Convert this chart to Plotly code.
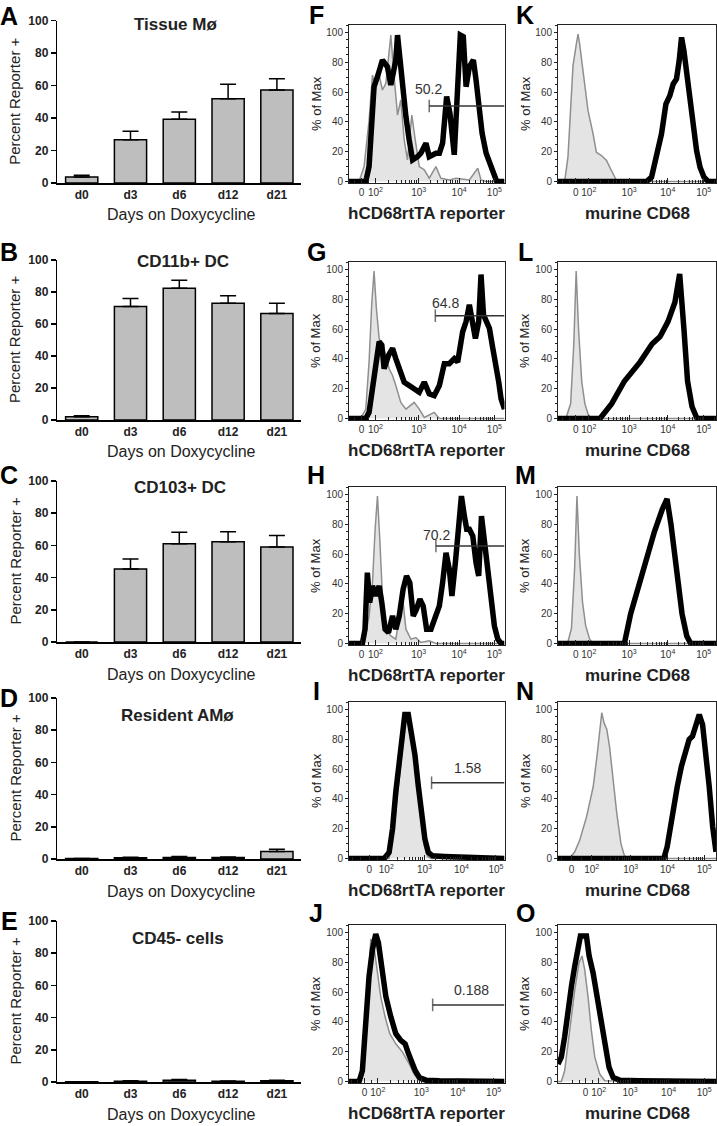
import math
import plotly.graph_objects as go

W, H = 717, 1126
FONT = "Arial, Liberation Sans, Helvetica, sans-serif"

# ---------------- bar chart data (A-E) ----------------
days = ["d0", "d3", "d6", "d12", "d21"]
bar_titles = ["Tissue Mø", "CD11b+ DC", "CD103+ DC", "Resident AMø", "CD45- cells"]
tissue_mac = [3.7, 26.7, 39.3, 51.9, 57.3]
tissue_mac_top = [4.8, 31.9, 43.8, 60.9, 64.3]
cd11b_dc = [2.0, 71.0, 82.3, 73.0, 66.5]
cd11b_dc_top = [2.6, 76.0, 87.4, 77.6, 73.0]
cd103_dc = [0.0, 45.3, 61.0, 62.3, 59.0]
cd103_dc_top = [0.0, 51.5, 68.2, 68.5, 66.2]
resident_am = [0.3, 0.8, 1.0, 0.9, 4.6]
resident_am_top = [0.3, 1.1, 1.5, 1.3, 6.0]
cd45neg = [0.2, 0.5, 1.1, 0.5, 0.8]
cd45neg_top = [0.2, 0.7, 1.5, 0.6, 1.1]

# ---------------- histogram data (x = position along axis, 0-100; y = % of Max) ----------------
# hCD68rtTA reporter column (F-J)
f_ctrl_x = [0, 6.5, 9.7, 12.9, 15.1, 17.2, 19.4, 21.5, 23.7, 26.9, 29.0, 31.2, 33.3, 35.5, 37.6, 40.4, 42.6, 45.2, 48.4, 51.6, 55.9, 59.1, 64.5, 68.8, 77.4, 82.8, 84.9, 88.2, 100]
f_ctrl_y = [0, 0, 10, 41, 71.4, 62.5, 71.4, 61.4, 65.8, 98.2, 70.3, 44.6, 54.7, 27.9, 14.5, 44.6, 27.9, 10, 7.8, 2.2, 10, 2.2, 1.1, 2.2, 1.1, 8.9, 1.1, 0, 0]
f_dox_x = [0, 10.8, 12.9, 14.6, 16.1, 18.3, 21.5, 24.7, 26.9, 28.4, 30.1, 31.2, 32.7, 34.4, 36.6, 38.7, 40.9, 44.1, 46.2, 49.5, 51.6, 55.9, 58.1, 60.2, 62.8, 64.9, 67.7, 69.9, 71.6, 73.5, 75.3, 77.4, 80.0, 81.7, 83.4, 85.6, 88.2, 91.4, 93.5, 95.0, 100]
f_dox_y = [0, 0, 10, 48, 63.6, 70.3, 81.5, 77, 64.7, 72.5, 81.5, 98.2, 81.5, 63.6, 43.5, 27.9, 14.5, 16.7, 19, 25.7, 16.7, 19, 19, 25.7, 57, 45.8, 17.9, 63.6, 98.2, 97.1, 63.6, 77, 81.5, 68.1, 54.7, 32.4, 19, 10, 5.6, 0, 0]

g_ctrl_x = [0, 7.5, 10.8, 12.9, 14.6, 16.1, 17.6, 19.4, 21.5, 23.7, 25.8, 28.0, 30.1, 33.3, 36.6, 41.9, 45.2, 48.4, 54.8, 58.1, 100]
g_ctrl_y = [0, 0, 6.3, 37.9, 76.3, 98.9, 74, 53.7, 49.2, 42.4, 33.4, 28.9, 22.1, 10.8, 6.3, 10.8, 6.3, 0.7, 4.1, 0, 0]
g_dox_x = [0, 10.8, 12.9, 15.1, 17.2, 19.4, 21.1, 22.6, 25.4, 28.0, 30.1, 32.3, 35.5, 38.7, 41.9, 45.2, 48.4, 51.6, 54.8, 58.1, 61.3, 64.5, 67.7, 69.9, 73.1, 75.3, 77.4, 79.1, 81.3, 83.4, 84.9, 86.5, 88.2, 90.3, 92.5, 94.6, 96.3, 97.8, 100]
g_dox_y = [0, 0, 4.1, 19.9, 35.7, 51.5, 49.2, 33.4, 42.4, 47, 40.2, 33.4, 24.4, 22.1, 19.9, 17.6, 24.4, 16.5, 15.3, 22.1, 36.8, 36.8, 40.2, 37.9, 58.2, 65, 76.3, 65, 53.7, 65, 96.6, 69.5, 65, 60.5, 47, 35.7, 24.4, 13.1, 6.3]

h_ctrl_x = [0, 9.7, 12.9, 15.1, 16.8, 18.3, 19.8, 21.5, 23.7, 26.9, 30.1, 32.3, 34.4, 36.6, 39.8, 43.0, 46.2, 51.6, 55.9, 100]
h_ctrl_y = [0, 0, 18.5, 40.8, 76.6, 98.9, 69.9, 31.9, 9.6, 5.1, 2.9, 18.5, 31.9, 9.6, 2.9, 4, 0.7, 1.8, 0, 0]
h_dox_x = [0, 8.6, 10.3, 11.8, 13.3, 15.1, 17.2, 19.4, 21.1, 23.2, 25.4, 28.0, 30.1, 32.3, 34.8, 37.0, 39.1, 41.3, 43.4, 45.6, 47.7, 49.9, 52.7, 55.5, 58.1, 60.2, 62.4, 64.5, 66.2, 68.4, 70.5, 72.3, 74.2, 75.7, 77.4, 79.6, 81.7, 83.4, 85.2, 87.1, 89.2, 91.4, 93.5, 95.7, 97.8, 100]
h_dox_y = [0, 0, 9.6, 47.5, 27.5, 38.6, 31.9, 38.6, 27.5, 9.6, 7.4, 18.5, 9.6, 18.5, 36.4, 45.3, 40.8, 18.5, 23, 29.7, 25.2, 9.6, 9.6, 18.5, 25.2, 40.8, 60.9, 49.8, 31.9, 54.2, 81, 98.9, 85.5, 76.6, 76.6, 72.1, 54.2, 45.3, 85.5, 69.9, 49.8, 31.9, 11.8, 2.9, 0, 0]

i_ctrl_x = [0, 25.8, 29.0, 32.3, 34.4, 36.6, 38.1, 39.8, 41.9, 44.1, 46.2, 48.4, 50.5, 52.7, 100]
i_ctrl_y = [0, 0, 22.1, 53.7, 76.3, 94.4, 97.7, 89.8, 71.8, 49.2, 26.6, 8.6, 1.4, 0, 0]
i_dox_x = [0, 22.6, 25.8, 28.0, 30.1, 32.3, 34.4, 35.9, 38.1, 40.2, 42.4, 44.5, 46.7, 48.8, 51.0, 53.8, 61.3, 72.0, 84.9, 100]
i_dox_y = [0, 0, 4.1, 19.9, 44.7, 65, 87.6, 96.6, 96.6, 85.3, 69.5, 49.2, 31.2, 13.1, 4.1, 1.8, 1.4, 0.9, 0.5, 0]

j_ctrl_x = [0, 7.5, 9.7, 11.8, 14.0, 15.7, 17.8, 20.4, 23.2, 26.2, 30.1, 34.4, 38.7, 41.9, 45.2, 47.3, 100]
j_ctrl_y = [0, 0, 16.3, 52.5, 95.5, 93.2, 77.4, 57, 43.4, 32.1, 25.3, 19.7, 11.8, 5, 0.9, 0, 0]
j_dox_x = [0, 6.5, 8.6, 10.8, 12.9, 15.1, 17.2, 18.9, 21.1, 23.7, 26.9, 30.1, 33.3, 36.1, 38.3, 40.4, 42.6, 45.2, 49.5, 58.1, 100]
j_dox_y = [0, 0, 7.2, 41.2, 70.6, 88.7, 98.9, 93.2, 75.1, 57, 43.4, 32.1, 27.6, 25.3, 18.6, 12.9, 7.2, 2.7, 0.9, 0.5, 0]

# murine CD68 column (K-O)
k_ctrl_x = [0, 4.2, 6.3, 9.5, 11.6, 12.7, 13.7, 14.8, 16.9, 19.0, 22.2, 24.3, 27.5, 30.7, 33.8, 37.0, 39.1, 100]
k_ctrl_y = [0, 0, 16.3, 77.7, 92.2, 98.9, 92.2, 82.1, 63.2, 47.5, 31.9, 19.6, 17.4, 14.1, 7.4, 0.7, 0, 0]
k_dox_x = [0, 56.0, 59.2, 62.4, 65.5, 68.3, 70.8, 72.9, 75.0, 76.7, 78.2, 79.7, 81.4, 83.5, 85.6, 87.7, 89.9, 92.4, 95.1, 100]
k_dox_y = [0, 0, 2.9, 16.3, 31.9, 52, 57.6, 65.4, 68.8, 81, 96.7, 87.7, 73.2, 54.2, 36.4, 20.8, 9.6, 2.9, 0, 0]

l_ctrl_x = [0, 5.0, 8.0, 10.0, 11.5, 13.0, 15.0, 17.0, 19.0, 21.0, 100]
l_ctrl_y = [0, 0, 10, 50, 99, 60, 25, 10, 3, 0, 0]
l_dox_x = [0, 26.6, 34.0, 42.0, 52.0, 59.5, 64.6, 69.6, 74.0, 77.0, 79.7, 82.0, 84.8, 88.0, 100]
l_dox_y = [0, 0, 10, 25, 38, 50, 55, 65, 78, 97, 60, 25, 8, 0, 0]

m_ctrl_x = [0, 6.0, 8.5, 10.5, 12.0, 13.5, 15.5, 17.5, 20.0, 22.0, 100]
m_ctrl_y = [0, 0, 10, 50, 99, 60, 28, 12, 3, 0, 0]
m_dox_x = [0, 42.0, 46.0, 52.0, 56.5, 61.0, 66.0, 69.0, 71.5, 75.0, 78.5, 81.5, 84.0, 100]
m_dox_y = [0, 0, 20, 42, 60, 75, 90, 97, 80, 50, 20, 5, 0, 0]

n_ctrl_x = [0, 7.4, 10.6, 13.8, 18.1, 22.3, 24.9, 26.6, 27.7, 29.1, 30.9, 32.6, 34.7, 37.2, 39.8, 41.9, 44.0, 100]
n_ctrl_y = [0, 0, 4.5, 12.4, 28.1, 48.3, 70.8, 88.8, 97.8, 91, 86.5, 75.3, 52.8, 30.3, 10.1, 2.2, 0, 0]
n_dox_x = [0, 67.0, 69.1, 72.3, 75.5, 78.1, 80.9, 83.0, 85.1, 87.2, 89.4, 91.5, 93.6, 95.7, 97.9, 100]
n_dox_y = [0, 0, 7.9, 30.3, 48.3, 61.8, 73, 79.8, 82, 91, 96.6, 89.9, 70.8, 48.3, 21.3, 4.5]

o_ctrl_x = [0, 2.1, 4.2, 7.4, 10.6, 13.3, 15.2, 16.9, 19.0, 21.1, 23.3, 26.4, 29.6, 100]
o_ctrl_y = [0, 0, 7.2, 34.4, 61.5, 79.6, 84.2, 75.1, 57, 34.4, 16.3, 5, 0.5, 0]
o_dox_x = [0, 2.1, 4.2, 6.3, 8.5, 10.6, 12.7, 14.2, 18.0, 19.7, 22.2, 24.7, 27.5, 30.0, 32.3, 34.9, 39.1, 51.8, 100]
o_dox_y = [11.8, 16.3, 29.9, 48, 63.8, 77.4, 89.8, 97.7, 97.7, 84.2, 72.9, 57, 38.9, 23.1, 9.5, 2.7, 0.9, 0.5, 0]

# gates (F-J): start position, level, label, label position
gate_start = [51.6, 55.5, 55.9, 53.1, 53.8]
gate_level = [50.7, 69.0, 65.4, 50.8, 51.4]
gate_label = ["50.2", "64.8", "70.2", "1.58", "0.188"]
gate_label_x = [51.0, 62.0, 56.3, 76.3, 78.5]
gate_label_y = [61.8, 77.4, 72.5, 60.5, 61.5]

# axis tick labels/positions (0, 10^2, 10^3, 10^4, 10^5) along each panel's axis
tick_text = ["0", "10<sup>2</sup>", "10<sup>3</sup>", "10<sup>4</sup>", "10<sup>5</sup>"]
f_ticks = [8.0, 17.0, 44.8, 70.8, 93.5]
g_ticks = [8.0, 17.0, 44.8, 70.8, 93.5]
h_ticks = [8.0, 17.0, 44.8, 70.8, 93.5]
i_ticks = [13.0, 24.0, 48.5, 72.3, 94.5]
j_ticks = [10.0, 18.5, 46.5, 70.0, 93.0]
k_ticks = [11.2, 19.5, 45.0, 69.5, 92.2]
l_ticks = [11.2, 19.5, 45.0, 69.5, 92.2]
m_ticks = [11.2, 19.5, 45.0, 69.5, 92.2]
n_ticks = [8.5, 21.3, 46.0, 69.3, 92.5]
o_ticks = [17.5, 25.8, 45.6, 70.0, 92.5]

# ---------------- layout geometry (pixels) ----------------
bar_rows = [(20.7, 183.0), (260.0, 420.0), (481.0, 642.0), (698.0, 859.0), (921.0, 1082.0)]
bar_x = (57.3, 301.3)
hist_tops = [25.0, 262.0, 487.0, 702.0, 925.0]
hist_h = 158.0
col1_x = (349.0, 504.5)
col2_x = (558.0, 716.0)
letter_rows_left = [16, 252, 475, 698, 921]
letter_rows_right = [15, 252, 475, 691, 913]
bar_title_pos = [(175, 24.5), (183, 261), (180, 487), (177, 716), (177.5, 938)]


def px(xp):
    return xp / W


def py(yp):
    return 1 - yp / H


def note(x, y, text, size, bold=False, angle=0, color="#222"):
    return dict(x=px(x), y=py(y), xref="paper", yref="paper", text=text, textangle=angle,
                showarrow=False, xanchor="center", yanchor="middle",
                font=dict(family=FONT, size=size, color=color, weight="bold" if bold else "normal"))


def minor_ticks(pos):
    p0, p2, p3, p4, p5 = pos
    out = []
    for a, b in [(p2, p3), (p3, p4), (p4, p5)]:
        for m in range(2, 10):
            out.append(a + (b - a) * math.log10(m))
    for m in range(2, 4):
        v = p5 + (p5 - p4) * math.log10(m)
        if v < 100:
            out.append(v)
    step = p2 - p0
    for v in [p0 - step, p0 + step / 2, p0 - step / 2]:
        if v > 0:
            out.append(v)
    return out


fig = go.Figure()
layout = {}
annotations = []

# ---------------- bar charts ----------------
bar_sets = [
    (tissue_mac, tissue_mac_top),
    (cd11b_dc, cd11b_dc_top),
    (cd103_dc, cd103_dc_top),
    (resident_am, resident_am_top),
    (cd45neg, cd45neg_top),
]
for i, (vals, tops) in enumerate(bar_sets):
    n = i + 1
    sx = "" if n == 1 else str(n)
    errs = [t - v for t, v in zip(tops, vals)]
    fig.add_trace(go.Bar(
        x=days, y=vals,
        marker=dict(color="#bebebe", line=dict(color="black", width=1.5)),
        error_y=dict(type="data", symmetric=False, array=errs, arrayminus=[0] * len(vals),
                     color="black", thickness=1.5, width=8),
        xaxis="x" + sx, yaxis="y" + sx, showlegend=False, hoverinfo="skip",
    ))
    y100, y0 = bar_rows[i]
    layout["xaxis" + sx] = dict(
        domain=[px(bar_x[0]), px(bar_x[1])], anchor="y" + sx, automargin=False,
        showline=True, linecolor="black", linewidth=1.5, ticks="", tickangle=0,
        tickfont=dict(family=FONT, size=12, color="#222", weight="bold"),
        showgrid=False, zeroline=False, fixedrange=True,
    )
    layout["yaxis" + sx] = dict(
        domain=[py(y0), py(y100)], anchor="x" + sx, range=[0, 100], automargin=False,
        tickvals=[0, 20, 40, 60, 80, 100], showline=True, linecolor="black", linewidth=1.5,
        ticks="outside", ticklen=5, tickwidth=1.5, tickcolor="black",
        tickfont=dict(family=FONT, size=12, color="#222", weight="bold"),
        showgrid=False, zeroline=False,
    )
    annotations.append(note(15, (y0 + y100) / 2, "Percent Reporter +", 15, angle=-90))
    annotations.append(note(181, y0 + 32, "Days on Doxycycline", 16))
    tx, ty = bar_title_pos[i]
    annotations.append(note(tx, ty, bar_titles[i], 17, bold=True))
    annotations.append(note(9, letter_rows_left[i], "ABCDE"[i], 25, bold=True, color="black"))

# ---------------- histograms ----------------
reporter_panels = [
    (f_ctrl_x, f_ctrl_y, f_dox_x, f_dox_y, f_ticks),
    (g_ctrl_x, g_ctrl_y, g_dox_x, g_dox_y, g_ticks),
    (h_ctrl_x, h_ctrl_y, h_dox_x, h_dox_y, h_ticks),
    (i_ctrl_x, i_ctrl_y, i_dox_x, i_dox_y, i_ticks),
    (j_ctrl_x, j_ctrl_y, j_dox_x, j_dox_y, j_ticks),
]
cd68_panels = [
    (k_ctrl_x, k_ctrl_y, k_dox_x, k_dox_y, k_ticks),
    (l_ctrl_x, l_ctrl_y, l_dox_x, l_dox_y, l_ticks),
    (m_ctrl_x, m_ctrl_y, m_dox_x, m_dox_y, m_ticks),
    (n_ctrl_x, n_ctrl_y, n_dox_x, n_dox_y, n_ticks),
    (o_ctrl_x, o_ctrl_y, o_dox_x, o_dox_y, o_ticks),
]

n = 5
for col, (panels, cx, xtitle, letters) in enumerate([
        (reporter_panels, col1_x, "hCD68rtTA reporter", "FGHIJ"),
        (cd68_panels, col2_x, "murine CD68", "KLMNO")]):
    for r, (cxs, cys, dxs, dys, ticks) in enumerate(panels):
        n += 1
        sx = str(n)
        top = hist_tops[r]
        bot = top + hist_h
        fig.add_trace(go.Scatter(
            x=cxs, y=cys, mode="lines", fill="tozeroy", fillcolor="#e4e4e4",
            line=dict(color="#8f8f8f", width=1.5), xaxis="x" + sx, yaxis="y" + sx,
            showlegend=False, hoverinfo="skip"))
        fig.add_trace(go.Scatter(
            x=dxs, y=dys, mode="lines", line=dict(color="black", width=5.5),
            xaxis="x" + sx, yaxis="y" + sx, showlegend=False, hoverinfo="skip"))
        if col == 0:
            fig.add_trace(go.Scatter(
                x=[gate_start[r], 100], y=[gate_level[r], gate_level[r]], mode="lines+markers",
                line=dict(color="#333", width=1.5),
                marker=dict(symbol="line-ns", size=[9, 0], line=dict(color="#333", width=1.5)),
                xaxis="x" + sx, yaxis="y" + sx, showlegend=False, hoverinfo="skip"))
            annotations.append(dict(x=gate_label_x[r], y=gate_label_y[r], xref="x" + sx, yref="y" + sx,
                                    text=gate_label[r], showarrow=False, xanchor="center", yanchor="middle",
                                    font=dict(family=FONT, size=14, color="#333")))
        layout["xaxis" + sx] = dict(
            domain=[px(cx[0]), px(cx[1])], anchor="y" + sx, range=[0, 100], automargin=False,
            tickmode="array", tickvals=ticks, ticktext=tick_text, tickangle=0,
            ticks="inside", ticklen=5, tickwidth=1, tickcolor="#222",
            minor=dict(tickmode="array", tickvals=minor_ticks(ticks), ticks="inside",
                       ticklen=3, tickwidth=1, tickcolor="#222"),
            tickfont=dict(family=FONT, size=10, color="#333"),
            showline=True, mirror=True, linecolor="#222", linewidth=1,
            showgrid=False, zeroline=False,
        )
        layout["yaxis" + sx] = dict(
            domain=[py(bot), py(top)], anchor="x" + sx, range=[-1, 105], automargin=False,
            tickvals=[0, 20, 40, 60, 80, 100], ticks="outside", ticklen=3, tickcolor="#222",
            minor=dict(dtick=5, ticks="outside", ticklen=2, tickcolor="#222"),
            tickfont=dict(family=FONT, size=10, color="#333"),
            showline=True, mirror=True, linecolor="#222", linewidth=1,
            showgrid=False, zeroline=False,
        )
        annotations.append(note(cx[0] - 33, (top + bot) / 2, "% of Max", 13, angle=-90))
        annotations.append(note((cx[0] + cx[1]) / 2, bot + 30, xtitle, 17, bold=True))
        annotations.append(note(cx[0] - 33, letter_rows_right[r], letters[r], 25, bold=True, color="black"))

fig.update_layout(
    template="none",
    width=W, height=H, margin=dict(l=0, r=0, t=0, b=0, pad=0), autosize=False,
    paper_bgcolor="white", plot_bgcolor="white",
    bargap=0.34, font=dict(family=FONT), annotations=annotations, **layout,
)
fig.write_html("out.html", config={"displayModeBar": False, "staticPlot": True},
               post_script="document.body.style.margin='0';document.body.style.overflow='hidden';")
